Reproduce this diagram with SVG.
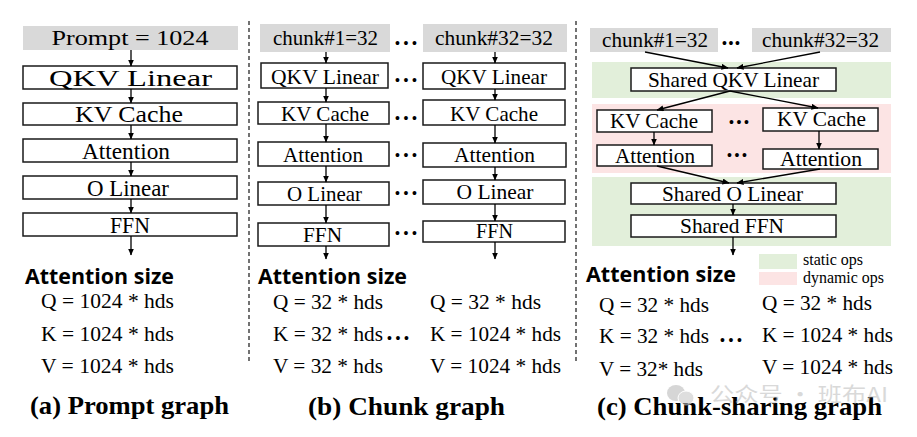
<svg xmlns="http://www.w3.org/2000/svg" width="917" height="437" viewBox="0 0 917 437">
<defs>
<marker id="ah" markerUnits="userSpaceOnUse" markerWidth="7" markerHeight="6" refX="6.5" refY="3" orient="auto">
<path d="M0,0 L7,3 L0,6 z" fill="#000"/>
</marker>
<style>
.box{fill:#fff;stroke:#1a1a1a;stroke-width:1.5}
.in{fill:#d9d9d9}
.lbl{font-family:"Liberation Serif","Times New Roman",serif;fill:#000;text-anchor:middle;font-size:22px}
.big{font-size:23px}
.inl{font-size:20px}
.hd{font-family:"Open Sans","Liberation Sans",sans-serif;font-weight:bold;font-size:21px;fill:#000}
.eq{font-family:"Liberation Serif","Times New Roman",serif;font-size:21px;fill:#000}
.ttl{font-family:"Liberation Serif","Times New Roman",serif;font-weight:bold;font-size:26px;text-anchor:middle;fill:#000}
.dots{font-family:"Liberation Sans",Arial,sans-serif;font-size:14px;text-anchor:middle;fill:#000}
.cn{stroke:#000;stroke-width:1.3;fill:none;marker-end:url(#ah)}
.div{stroke:#444;stroke-width:1.5;stroke-dasharray:4 3}
.st{fill:#e2efda}
.dy{fill:#fce4e4}
.lg{font-family:"Liberation Serif","Times New Roman",serif;font-size:17px;fill:#000}
</style>
</defs>

<!-- dividers -->
<line class="div" x1="249" y1="21" x2="249" y2="363"/>
<line class="div" x1="576" y1="21" x2="576" y2="364"/>

<!-- background bands (c) -->
<rect class="st" x="592" y="62" width="299" height="36"/>
<rect class="dy" x="592" y="104" width="299" height="69"/>
<rect class="st" x="592" y="177" width="299" height="69"/>

<!-- Panel (a) -->
<g id="a-prompt"><rect class="in" x="23" y="26" width="215" height="24"/><text class="lbl inl" x="130" y="45" textLength="157" lengthAdjust="spacingAndGlyphs">Prompt = 1024</text></g>
<g id="a-qkv"><rect class="box" x="23" y="66" width="214" height="23"/><text class="lbl big" x="130.5" y="86" textLength="163" lengthAdjust="spacingAndGlyphs">QKV Linear</text></g>
<g id="a-kv"><rect class="box" x="23" y="103" width="214" height="22"/><text class="lbl big" x="129" y="122" textLength="108" lengthAdjust="spacingAndGlyphs">KV Cache</text></g>
<g id="a-att"><rect class="box" x="23" y="139" width="214" height="23"/><text class="lbl big" x="126" y="159" textLength="88" lengthAdjust="spacingAndGlyphs">Attention</text></g>
<g id="a-ol"><rect class="box" x="23" y="176" width="214" height="23"/><text class="lbl big" x="128" y="196" textLength="82" lengthAdjust="spacingAndGlyphs">O Linear</text></g>
<g id="a-ffn"><rect class="box" x="23" y="213" width="214" height="23"/><text class="lbl big" x="130" y="233" textLength="40" lengthAdjust="spacingAndGlyphs">FFN</text></g>

<!-- Panel (b) left -->
<g id="b-chunk1"><rect class="in" x="260" y="24" width="130" height="28"/><text class="lbl inl" x="325.5" y="45" textLength="105" lengthAdjust="spacingAndGlyphs">chunk#1=32</text></g>
<g id="b-qkv1"><rect class="box" x="261" y="63" width="127" height="25"/><text class="lbl" x="325" y="84" textLength="108" lengthAdjust="spacingAndGlyphs">QKV Linear</text></g>
<g id="b-kv1"><rect class="box" x="258" y="102" width="131" height="22"/><text class="lbl" x="325" y="121" textLength="88" lengthAdjust="spacingAndGlyphs">KV Cache</text></g>
<g id="b-att1"><rect class="box" x="258" y="142" width="131" height="24"/><text class="lbl" x="323" y="162" textLength="80" lengthAdjust="spacingAndGlyphs">Attention</text></g>
<g id="b-ol1"><rect class="box" x="258" y="182" width="131" height="23"/><text class="lbl" x="324.5" y="201" textLength="75" lengthAdjust="spacingAndGlyphs">O Linear</text></g>
<g id="b-ffn1"><rect class="box" x="258" y="223" width="131" height="23"/><text class="lbl" x="322.5" y="242" textLength="39" lengthAdjust="spacingAndGlyphs">FFN</text></g>

<!-- Panel (b) right -->
<g id="b-chunk32"><rect class="in" x="423" y="24" width="144" height="28"/><text class="lbl inl" x="494" y="45" textLength="118" lengthAdjust="spacingAndGlyphs">chunk#32=32</text></g>
<g id="b-qkv32"><rect class="box" x="423" y="63" width="142" height="26"/><text class="lbl" x="494" y="84" textLength="106" lengthAdjust="spacingAndGlyphs">QKV Linear</text></g>
<g id="b-kv32"><rect class="box" x="423" y="100" width="142" height="25"/><text class="lbl" x="494" y="121" textLength="88" lengthAdjust="spacingAndGlyphs">KV Cache</text></g>
<g id="b-att32"><rect class="box" x="423" y="143" width="143" height="24"/><text class="lbl" x="494.5" y="162" textLength="81" lengthAdjust="spacingAndGlyphs">Attention</text></g>
<g id="b-ol32"><rect class="box" x="423" y="180" width="142" height="24"/><text class="lbl" x="495" y="199" textLength="77" lengthAdjust="spacingAndGlyphs">O Linear</text></g>
<g id="b-ffn32"><rect class="box" x="423" y="221" width="142" height="21"/><text class="lbl" x="494.5" y="238" textLength="37" lengthAdjust="spacingAndGlyphs">FFN</text></g>

<g id="b-dots">
<text class="dots" x="406" y="47.5" textLength="22" lengthAdjust="spacing">•••</text>
<text class="dots" x="406" y="84.5" textLength="22" lengthAdjust="spacing">•••</text>
<text class="dots" x="406" y="122.5" textLength="22" lengthAdjust="spacing">•••</text>
<text class="dots" x="406" y="159.5" textLength="22" lengthAdjust="spacing">•••</text>
<text class="dots" x="406" y="197.5" textLength="22" lengthAdjust="spacing">•••</text>
<text class="dots" x="406" y="237.5" textLength="22" lengthAdjust="spacing">•••</text>
</g>

<!-- Panel (c) -->
<g id="c-chunk1"><rect class="in" x="590" y="28" width="128" height="24"/><text class="lbl inl" x="655" y="47" textLength="106" lengthAdjust="spacingAndGlyphs">chunk#1=32</text></g>
<g id="c-chunk32"><rect class="in" x="752" y="28" width="139" height="24"/><text class="lbl inl" x="820.5" y="47" textLength="117" lengthAdjust="spacingAndGlyphs">chunk#32=32</text></g>
<g id="c-qkv"><rect class="box" x="631" y="68" width="205" height="23"/><text class="lbl" x="733.5" y="87" textLength="171" lengthAdjust="spacingAndGlyphs">Shared QKV Linear</text></g>
<g id="c-kv1"><rect class="box" x="597" y="110" width="115" height="22"/><text class="lbl" x="654" y="128" textLength="88" lengthAdjust="spacingAndGlyphs">KV Cache</text></g>
<g id="c-kv32"><rect class="box" x="763" y="108" width="115" height="23"/><text class="lbl" x="821.5" y="126" textLength="89" lengthAdjust="spacingAndGlyphs">KV Cache</text></g>
<g id="c-att1"><rect class="box" x="597" y="145" width="115" height="21"/><text class="lbl" x="655" y="163" textLength="80" lengthAdjust="spacingAndGlyphs">Attention</text></g>
<g id="c-att32"><rect class="box" x="763" y="149" width="115" height="20"/><text class="lbl" x="821" y="166" textLength="82" lengthAdjust="spacingAndGlyphs">Attention</text></g>
<g id="c-ol"><rect class="box" x="631" y="183" width="205" height="21"/><text class="lbl" x="732.5" y="201" textLength="141" lengthAdjust="spacingAndGlyphs">Shared O Linear</text></g>
<g id="c-ffn"><rect class="box" x="631" y="215" width="205" height="22"/><text class="lbl" x="732" y="233" textLength="104" lengthAdjust="spacingAndGlyphs">Shared FFN</text></g>

<g id="c-dots">
<text class="dots" x="731" y="47.5" textLength="18" lengthAdjust="spacing">•••</text>
<text class="dots" x="739" y="126.5" textLength="20" lengthAdjust="spacing">•••</text>
<text class="dots" x="737" y="159.5" textLength="20" lengthAdjust="spacing">•••</text>
</g>

<!-- connectors -->
<g id="connectors">
<line class="cn" x1="131" y1="50" x2="131" y2="66"/>
<line class="cn" x1="131" y1="89" x2="131" y2="103"/>
<line class="cn" x1="131" y1="125" x2="131" y2="139"/>
<line class="cn" x1="131" y1="162" x2="131" y2="176"/>
<line class="cn" x1="131" y1="199" x2="131" y2="213"/>
<line class="cn" x1="131" y1="236" x2="131" y2="255"/>

<line class="cn" x1="326" y1="52" x2="326" y2="63"/>
<line class="cn" x1="326" y1="88" x2="326" y2="102"/>
<line class="cn" x1="326" y1="124" x2="326" y2="142"/>
<line class="cn" x1="326" y1="166" x2="326" y2="182"/>
<line class="cn" x1="326" y1="205" x2="326" y2="223"/>
<line class="cn" x1="326" y1="246" x2="326" y2="259"/>

<line class="cn" x1="495" y1="52" x2="495" y2="63"/>
<line class="cn" x1="495" y1="89" x2="495" y2="100"/>
<line class="cn" x1="495" y1="125" x2="495" y2="143"/>
<line class="cn" x1="495" y1="167" x2="495" y2="180"/>
<line class="cn" x1="495" y1="204" x2="495" y2="221"/>
<line class="cn" x1="495" y1="242" x2="495" y2="259"/>

<line class="cn" x1="645" y1="52" x2="728" y2="68"/>
<line class="cn" x1="820" y1="52" x2="737" y2="68"/>
<line class="cn" x1="730" y1="91" x2="657" y2="110"/>
<line class="cn" x1="730" y1="91" x2="818" y2="108"/>
<line class="cn" x1="654" y1="132" x2="654" y2="145"/>
<line class="cn" x1="819" y1="131" x2="819" y2="149"/>
<line class="cn" x1="657" y1="166" x2="729" y2="183"/>
<line class="cn" x1="820" y1="169" x2="737" y2="183"/>
<line class="cn" x1="733" y1="204" x2="733" y2="215"/>
<line class="cn" x1="733" y1="237" x2="733" y2="255"/>
</g>

<!-- legend -->
<g id="legend">
<rect class="st" x="759" y="254" width="38" height="15"/>
<rect class="dy" x="759" y="272" width="38" height="13"/>
<text class="lg" x="803" y="265" textLength="60" lengthAdjust="spacingAndGlyphs">static ops</text>
<text class="lg" x="803" y="283" textLength="81" lengthAdjust="spacingAndGlyphs">dynamic ops</text>
</g>

<!-- attention size -->
<text class="hd" x="25" y="284" textLength="149" lengthAdjust="spacingAndGlyphs">Attention size</text>
<text class="hd" x="258" y="284" textLength="149" lengthAdjust="spacingAndGlyphs">Attention size</text>
<text class="hd" x="586" y="282" textLength="150" lengthAdjust="spacingAndGlyphs">Attention size</text>

<text class="eq" x="41" y="308" textLength="133" lengthAdjust="spacingAndGlyphs">Q = 1024 * hds</text>
<text class="eq" x="41" y="341" textLength="133" lengthAdjust="spacingAndGlyphs">K = 1024 * hds</text>
<text class="eq" x="41" y="373" textLength="133" lengthAdjust="spacingAndGlyphs">V = 1024 * hds</text>

<text class="eq" x="273" y="309" textLength="110" lengthAdjust="spacingAndGlyphs">Q = 32 * hds</text>
<text class="eq" x="273" y="341" textLength="110" lengthAdjust="spacingAndGlyphs">K = 32 * hds</text>
<text class="eq" x="273" y="373" textLength="110" lengthAdjust="spacingAndGlyphs">V = 32 * hds</text>
<text class="dots" x="398" y="342.5" textLength="22" lengthAdjust="spacing">•••</text>
<text class="eq" x="430" y="309" textLength="111" lengthAdjust="spacingAndGlyphs">Q = 32 * hds</text>
<text class="eq" x="430" y="341" textLength="131" lengthAdjust="spacingAndGlyphs">K = 1024 * hds</text>
<text class="eq" x="430" y="373" textLength="131" lengthAdjust="spacingAndGlyphs">V = 1024 * hds</text>

<text class="eq" x="599" y="312" textLength="110" lengthAdjust="spacingAndGlyphs">Q = 32 * hds</text>
<text class="eq" x="599" y="343" textLength="110" lengthAdjust="spacingAndGlyphs">K = 32 * hds</text>
<text class="eq" x="599" y="376" textLength="104" lengthAdjust="spacingAndGlyphs">V = 32* hds</text>
<text class="dots" x="731" y="344.5" textLength="22" lengthAdjust="spacing">•••</text>
<text class="eq" x="762" y="310" textLength="110" lengthAdjust="spacingAndGlyphs">Q = 32 * hds</text>
<text class="eq" x="762" y="342" textLength="131" lengthAdjust="spacingAndGlyphs">K = 1024 * hds</text>
<text class="eq" x="762" y="374" textLength="131" lengthAdjust="spacingAndGlyphs">V = 1024 * hds</text>

<!-- titles -->
<text class="ttl" x="129.5" y="414" textLength="199" lengthAdjust="spacingAndGlyphs">(a) Prompt graph</text>
<text class="ttl" x="406.5" y="415" textLength="197" lengthAdjust="spacingAndGlyphs">(b) Chunk graph</text>
<text class="ttl" x="739.5" y="415" textLength="285" lengthAdjust="spacingAndGlyphs">(c) Chunk-sharing graph</text>

<!-- watermark -->
<g id="watermark" opacity="0.55">
<ellipse cx="676" cy="393" rx="9" ry="8" fill="#b5b5b5"/>
<ellipse cx="686" cy="398" rx="8" ry="7" fill="#c4c4c4" stroke="#fff" stroke-width="1"/>
<text x="710" y="402" font-family="'Noto Sans CJK SC',sans-serif" font-size="20" fill="#bbb" textLength="178" lengthAdjust="spacingAndGlyphs">公众号 · 班布AI</text>
</g>
</svg>
